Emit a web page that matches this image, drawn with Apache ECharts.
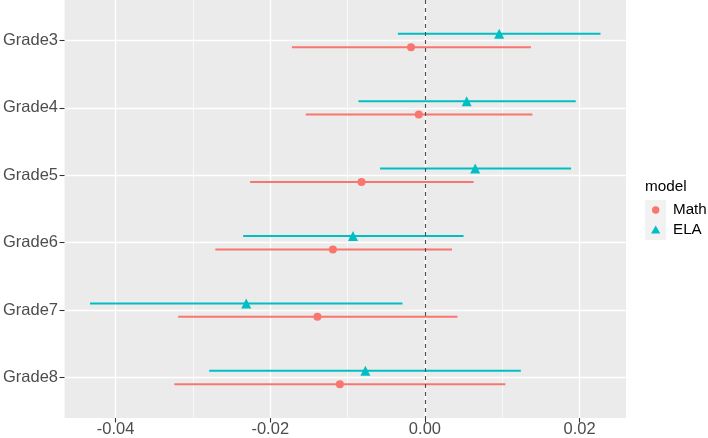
<!DOCTYPE html>
<html><head><meta charset="utf-8">
<script src="https://cdn.jsdelivr.net/npm/echarts@6/dist/echarts.min.js"></script>
<style>html,body{margin:0;padding:0;background:#fff}#c{width:708px;height:438px}</style>
</head><body><div id="c"></div>
<script>
// ---- data ----
const grades = ['Grade3','Grade4','Grade5','Grade6','Grade7','Grade8'];
const mathEst  = [-0.0018, -0.0008, -0.0082, -0.0119, -0.0139, -0.0110];
const mathLow  = [-0.0172, -0.0154, -0.0226, -0.0271, -0.0319, -0.0324];
const mathHigh = [ 0.0137,  0.0139,  0.0063,  0.0035,  0.0042,  0.0104];
const elaEst   = [ 0.0096,  0.0054,  0.0065, -0.0093, -0.0231, -0.0077];
const elaLow   = [-0.0035, -0.0086, -0.0058, -0.0235, -0.0433, -0.0279];
const elaHigh  = [ 0.0227,  0.0195,  0.0189,  0.0050, -0.0029,  0.0124];
const xTicks = [-0.04, -0.02, 0, 0.02];
const xMinor = [-0.03, -0.01, 0.01];
const refLine = 0;

// ---- styling ----
const FONT = '"Liberation Sans", Arial, Helvetica, sans-serif';
const MATH_C = '#F8766D', ELA_C = '#00BFC4';
const DODGE = 0.1;
const gradePos = grades.map((g, i) => i + 1);

function barData(lo, hi, off) { return gradePos.map((p, i) => [p + off, lo[i], hi[i]]); }
function ptData(est, off) { return gradePos.map((p, i) => [est[i], p + off]); }
function barRender(color) {
  return function (params, api) {
    const y = api.value(0);
    const a = api.coord([api.value(1), y]);
    const b = api.coord([api.value(2), y]);
    return { type: 'line', shape: { x1: a[0], y1: a[1], x2: b[0], y2: b[1] },
             style: { stroke: color, lineWidth: 2 } };
  };
}

const chart = echarts.init(document.getElementById('c'), null, { renderer: 'canvas' });
chart.setOption({
  animation: false,
  backgroundColor: '#ffffff',
  textStyle: { fontFamily: FONT },
  grid: { left: 63, right: 82, top: 0, bottom: 20, show: true, backgroundColor: '#EBEBEB', borderWidth: 0 },
  title: { text: 'model', left: 645, top: 179, padding: 0,
           textStyle: { fontSize: 15.3, fontWeight: 'normal', color: '#000', fontFamily: FONT } },
  graphic: [{ type: 'rect', left: 645, top: 200, z: 0, shape: { width: 21, height: 40 }, style: { fill: '#F2F2F2' } }],
  legend: {
    orient: 'vertical', left: 645, top: 200, padding: 0, itemGap: 0,
    itemWidth: 21, itemHeight: 20,
    textStyle: { fontSize: 15.2, color: '#000', fontFamily: FONT, lineHeight: 20, padding: [0, 0, 0, 2] },
    data: [
      { name: 'Math', icon: 'path://M0,0M21,20M7,10A3.7,3.7,0,1,1,14.4,10A3.7,3.7,0,1,1,7,10Z' },
      { name: 'ELA', icon: 'path://M0,0M21,20M6.1,13.6L10.7,5.6L15.3,13.6Z' }
    ]
  },
  xAxis: [{
    type: 'value', min: -0.0466, max: 0.026,
    axisLine: { show: false, onZero: false },
    axisTick: { show: true, length: 4.5, customValues: xTicks, lineStyle: { color: '#333333', width: 1.1 } },
    axisLabel: { customValues: xTicks, margin: 3, fontSize: 16.5, color: '#4D4D4D', fontFamily: FONT,
                 formatter: v => v.toFixed(2) },
    splitLine: { show: true, lineStyle: { color: '#FFFFFF', width: 1.4 } }
  }, {
    type: 'value', min: -0.0466, max: 0.026, position: 'bottom',
    axisLine: { show: false, onZero: false },
    axisTick: { show: false, customValues: xMinor },
    axisLabel: { show: false, customValues: xMinor },
    splitLine: { show: true, lineStyle: { color: '#FFFFFF', width: 0.7 } }
  }],
  yAxis: {
    type: 'value', inverse: true, min: 0.4, max: 6.6, position: 'left',
    axisLine: { show: false, onZero: false },
    axisTick: { show: true, length: 5, customValues: gradePos, lineStyle: { color: '#333333', width: 1.1 } },
    axisLabel: { customValues: gradePos, margin: 6.5, fontSize: 16.5, color: '#4D4D4D', fontFamily: FONT,
                 formatter: v => grades[Math.round(v) - 1] },
    splitLine: { show: true, lineStyle: { color: '#FFFFFF', width: 1.4 } }
  },
  series: [
    { name: 'Math', type: 'custom', renderItem: barRender(MATH_C), encode: { x: [1, 2], y: 0 },
      data: barData(mathLow, mathHigh, DODGE), itemStyle: { color: MATH_C }, z: 2,
      markLine: { silent: true, symbol: ['none', 'none'], label: { show: false },
                  lineStyle: { type: [4, 4], color: '#4D4D4D', width: 1.1 },
                  emphasis: { disabled: true }, data: [{ xAxis: refLine }] } },
    { name: 'ELA', type: 'custom', renderItem: barRender(ELA_C), encode: { x: [1, 2], y: 0 },
      data: barData(elaLow, elaHigh, -DODGE), itemStyle: { color: ELA_C }, z: 2 },
    { name: 'Math', type: 'scatter', symbol: 'circle', symbolSize: 8, data: ptData(mathEst, DODGE),
      itemStyle: { color: MATH_C, opacity: 1 }, z: 3 },
    { name: 'ELA', type: 'scatter', symbol: 'triangle', symbolSize: 10, data: ptData(elaEst, -DODGE),
      itemStyle: { color: ELA_C, opacity: 1 }, z: 3 }
  ]
});
</script></body></html>
